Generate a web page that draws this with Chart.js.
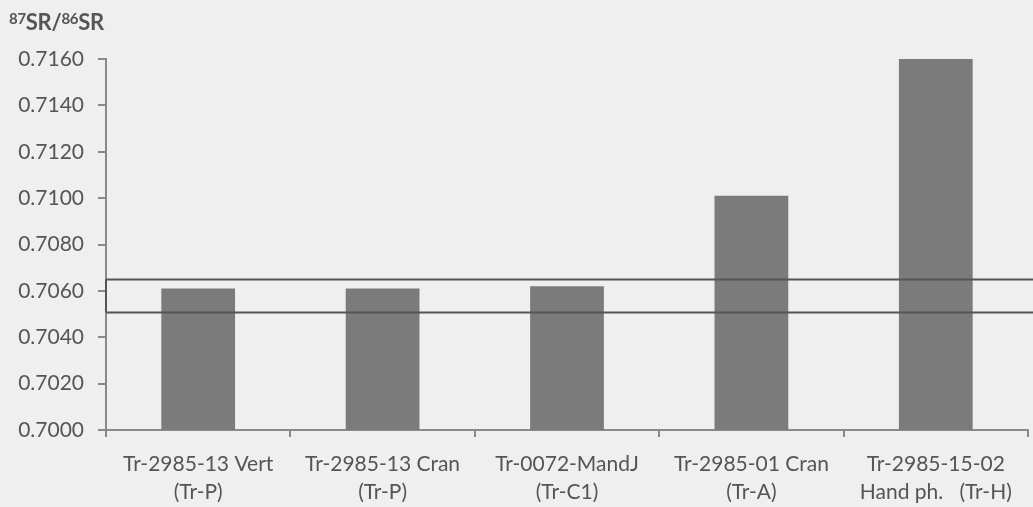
<!DOCTYPE html>
<html>
<head>
<meta charset="utf-8">
<script src="https://cdn.jsdelivr.net/npm/chart.js@4.4.1/dist/chart.umd.min.js"></script>
<style>
  html, body { margin: 0; padding: 0; background: #efefef; }
  #wrap { position: relative; width: 1033px; height: 507px; }
  #title {
    position: absolute; left: 9px; top: 8px;
    font-family: Lato, "Open Sans", sans-serif; font-weight: bold;
    font-size: 22px; color: #555; letter-spacing: -0.3px;
  }
  #title sup { font-size: 15px; position: relative; top: 0px; vertical-align: 6px; }
</style>
</head>
<body>
<div id="wrap">
  <div id="title"><sup>87</sup>SR/<sup>86</sup>SR</div>
  <canvas id="myChart" width="1033" height="507"></canvas>
</div>
<script>
// sample names (two lines each)
var categories = [
  ["Tr-2985-13 Vert", "(Tr-P)"],
  ["Tr-2985-13 Cran", "(Tr-P)"],
  ["Tr-0072-MandJ", "(Tr-C1)"],
  ["Tr-2985-01 Cran", "(Tr-A)"],
  ["Tr-2985-15-02", "Hand ph.   (Tr-H)"]
];
// 87Sr/86Sr values
var srValues = [0.7061, 0.7061, 0.7062, 0.7101, 0.7160];
// local range band (upper / lower)
var rangeLines = [0.7065, 0.7051];
var yTicks = [0.7000, 0.7020, 0.7040, 0.7060, 0.7080, 0.7100, 0.7120, 0.7140, 0.7160];

var textColor = "#555555";
var axisColor = "#8a8a8a";

// draws the two horizontal band lines across to the right edge
var bandLines = {
  id: "bandLines",
  afterDatasetsDraw: function(chart) {
    var ctx = chart.ctx;
    var y = chart.scales.y;
    ctx.save();
    ctx.strokeStyle = "#555";
    ctx.lineWidth = 2;
    rangeLines.forEach(function(v) {
      var py = Math.round(y.getPixelForValue(v)) + 0.5;
      ctx.beginPath();
      ctx.moveTo(chart.chartArea.left, py);
      ctx.lineTo(chart.width, py);
      ctx.stroke();
    });
    // short vertical join at the axis
    ctx.beginPath();
    ctx.moveTo(chart.chartArea.left, y.getPixelForValue(rangeLines[0]));
    ctx.lineTo(chart.chartArea.left, y.getPixelForValue(rangeLines[1]));
    ctx.stroke();
    ctx.restore();
  }
};

var myChart = new Chart(document.getElementById("myChart"), {
  type: "bar",
  data: {
    labels: categories,
    datasets: [{
      label: "87Sr/86Sr",
      data: srValues,
      backgroundColor: "#7b7b7b",
      barPercentage: 0.4,
      categoryPercentage: 1.0
    }]
  },
  options: {
    responsive: false,
    animation: false,
    layout: { padding: { top: 59, right: 5, left: 0, bottom: 0 } },
    plugins: {
      legend: { display: false },
      tooltip: { enabled: false }
    },
    scales: {
      x: {
        offset: true,
        grid: {
          offset: true,
          drawOnChartArea: false,
          drawTicks: true,
          tickLength: 7,
          color: axisColor,
          lineWidth: 2
        },
        border: { color: axisColor, width: 2 },
        ticks: {
          color: textColor,
          font: { family: "Lato, 'Open Sans', sans-serif", size: 21, lineHeight: 1.3 },
          padding: 14,
          maxRotation: 0,
          autoSkip: false
        },
        afterFit: function(scale) { scale.height = 77; }
      },
      y: {
        min: 0.7,
        max: 0.716,
        afterBuildTicks: function(scale) {
          scale.ticks = yTicks.map(function(v) { return { value: v }; });
        },
        grid: {
          drawOnChartArea: false,
          drawTicks: true,
          tickLength: 8,
          color: axisColor,
          lineWidth: 2
        },
        border: { color: axisColor, width: 2 },
        ticks: {
          color: textColor,
          font: { family: "Lato, 'Open Sans', sans-serif", size: 21 },
          padding: 14,
          callback: function(v) { return Number(v).toFixed(4); }
        },
        afterFit: function(scale) { scale.width = 106; }
      }
    }
  },
  plugins: [bandLines]
});
</script>
</body>
</html>
